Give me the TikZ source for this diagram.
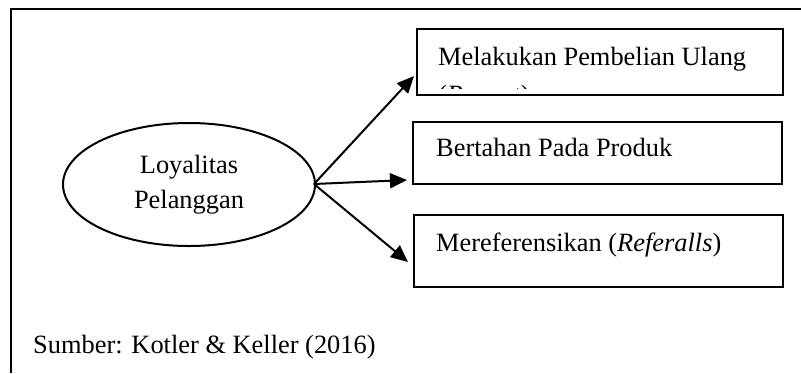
\documentclass[tikz,border=0pt]{standalone}
\usepackage{fontspec}
\setmainfont{Liberation Serif}
\usetikzlibrary{arrows.meta,shapes.geometric}
\begin{document}
\begin{tikzpicture}[x=1pt,y=-1pt,
  txt/.style={font=\fontsize{26.4}{35}\selectfont, inner sep=0pt},
  box/.style={draw, line width=2.2pt, inner sep=0pt},
  arr/.style={line width=2pt, -{Triangle[length=17pt,width=15pt]}}
]
\useasboundingbox (0,0) rectangle (801,373);

% open frame: top and left edges only
\coordinate (fr) at (801,9);
\coordinate (fc) at (11,9);
\coordinate (fb) at (11,373);
\draw[line width=2.2pt] (fr) -- (fc) -- (fb);

% central concept
\node[draw, ellipse, line width=2pt, minimum width=252pt, minimum height=123pt,
      txt, align=center] (loy) at (189,184.5) {Loyalitas\\Pelanggan};

% indicator boxes
\node[box, minimum width=366pt, minimum height=66pt] (b1) at (600,62) {};
\node[box, minimum width=369pt, minimum height=62pt] (b2) at (597.5,153) {};
\node[box, minimum width=369pt, minimum height=72pt] (b3) at (598.5,251) {};

\node[txt, anchor=base west] (b1t) at (438,65) {Melakukan Pembelian Ulang};
\begin{scope}
  \clip (417,29) rectangle (783,88);
  \node[txt, anchor=base west] (b1u) at (438,103) {(\textit{Repeat})};
\end{scope}
\node[txt, anchor=base west] (b2t) at (436,156) {Bertahan Pada Produk};
\node[txt, anchor=base west] (b3t) at (436,251) {Mereferensikan (\textit{Referalls})};

% arrow tips just short of the boxes
\coordinate (t1) at (414,76);
\coordinate (t2) at (407,180);
\coordinate (t3) at (408,262);
\coordinate (s) at (314,184);
\draw[arr] (s) -- (t1);
\draw[arr] (s) -- (t2);
\draw[arr] (s) -- (t3);

% source line
\node[txt, anchor=base west] (src) at (33,353) {Sumber: Kotler \& Keller (2016)};
\end{tikzpicture}
\end{document}
